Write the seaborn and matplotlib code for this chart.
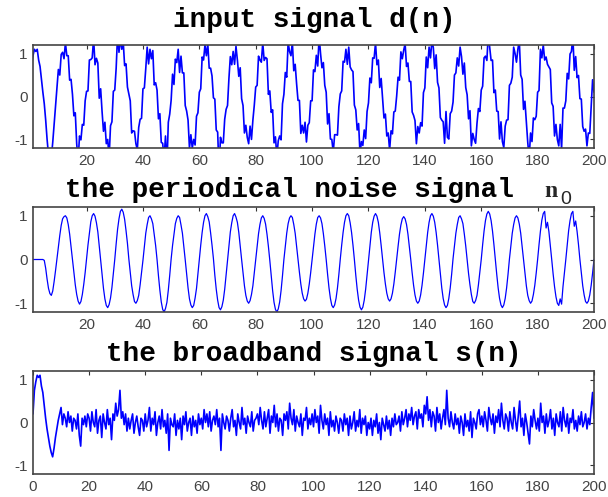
import matplotlib
matplotlib.use("Agg")
import matplotlib.pyplot as plt
import seaborn as sns
import numpy as np
import pandas as pd

sns.set_style("white")
plt.rcParams["axes.unicode_minus"] = False

# sample positions: 0, 0.5, ..., 200 (20 samples per row of 10 units)
n = np.arange(0, 200.5, 0.5)

# the periodical noise signal n0 (one row per 10 units)
n0 = [
    0, 0, 0, 0, 0, 0, 0, 0, 0, 0, -0.02, -0.2, -0.45, -0.66, -0.78, -0.82, -0.72, -0.5, -0.25, 0.02,
    0.28, 0.55, 0.78, 0.93, 0.98, 1.0, 0.95, 0.8, 0.58, 0.3, 0.0, -0.3, -0.58, -0.8, -0.95, -1.02, -0.96, -0.8, -0.57, -0.3,
    0.02, 0.33, 0.6, 0.86, 1.0, 1.05, 0.99, 0.84, 0.63, 0.31, -0.02, -0.35, -0.66, -0.9, -1.05, -1.1, -1.03, -0.88, -0.64, -0.33,
    0.0, 0.36, 0.69, 0.93, 1.1, 1.15, 1.08, 0.92, 0.66, 0.37, 0.01, -0.3, -0.6, -0.8, -0.96, -1.0, -0.94, -0.82, -0.58, -0.31,
    -0.02, 0.3, 0.6, 0.8, 0.96, 1.0, 0.93, 0.82, 0.57, 0.32, 0.0, -0.37, -0.7, -0.97, -1.14, -1.2, -1.12, -0.98, -0.7, -0.36,
    0.01, 0.32, 0.58, 0.82, 0.94, 1.0, 0.96, 0.79, 0.6, 0.3, -0.01, -0.34, -0.65, -0.9, -1.04, -1.1, -1.05, -0.88, -0.66, -0.33,
    0.0, 0.33, 0.62, 0.85, 1.0, 1.05, 0.98, 0.86, 0.61, 0.33, 0.02, -0.36, -0.68, -0.93, -1.1, -1.15, -1.08, -0.93, -0.68, -0.35,
    -0.01, 0.32, 0.63, 0.84, 1.0, 1.05, 0.97, 0.85, 0.62, 0.32, 0.0, -0.31, -0.6, -0.82, -0.95, -1.0, -0.94, -0.8, -0.6, -0.3,
    0.02, 0.31, 0.59, 0.8, 0.95, 1.0, 0.94, 0.81, 0.58, 0.3, -0.02, -0.37, -0.71, -0.98, -1.14, -1.2, -1.13, -0.97, -0.71, -0.37,
    0.0, 0.31, 0.6, 0.82, 0.95, 1.0, 0.96, 0.8, 0.6, 0.3, 0.01, -0.29, -0.56, -0.77, -0.9, -0.95, -0.91, -0.77, -0.56, -0.3,
    0.0, 0.32, 0.58, 0.81, 0.96, 1.0, 0.95, 0.82, 0.59, 0.31, 0.0, -0.34, -0.65, -0.89, -1.05, -1.1, -1.04, -0.89, -0.65, -0.34,
    0.01, 0.33, 0.62, 0.85, 1.0, 1.05, 1.0, 0.84, 0.62, 0.33, 0.0, -0.36, -0.68, -0.93, -1.09, -1.15, -1.09, -0.93, -0.68, -0.35,
    0.0, 0.33, 0.62, 0.85, 0.99, 1.05, 0.99, 0.85, 0.61, 0.32, 0.0, -0.3, -0.56, -0.77, -0.9, -0.95, -0.9, -0.77, -0.56, -0.29,
    0.01, 0.3, 0.58, 0.79, 0.93, 0.98, 0.93, 0.8, 0.58, 0.3, 0.0, -0.31, -0.59, -0.81, -0.95, -1.0, -0.95, -0.81, -0.59, -0.31,
    0.0, 0.32, 0.62, 0.85, 1.0, 1.05, 0.99, 0.85, 0.62, 0.33, 0.0, -0.34, -0.65, -0.89, -1.04, -1.1, -1.05, -0.89, -0.65, -0.34,
    0.02, 0.3, 0.6, 0.8, 0.96, 1.0, 0.93, 0.82, 0.58, 0.31, -0.01, -0.32, -0.58, -0.8, -0.96, -1.0, -0.94, -0.82, -0.58, -0.3,
    0.0, 0.34, 0.65, 0.89, 1.04, 1.1, 1.04, 0.89, 0.65, 0.34, 0.0, -0.34, -0.65, -0.89, -1.04, -1.1, -1.04, -0.89, -0.65, -0.34,
    0.01, 0.31, 0.6, 0.8, 0.95, 1.0, 0.95, 0.81, 0.6, 0.3, 0.0, -0.31, -0.6, -0.82, -0.94, -1.0, -0.95, -0.8, -0.59, -0.31,
    0.0, 0.34, 0.65, 0.9, 1.05, 1.1, 0.72, 0.85, 0.64, 0.33, 0.0, -0.33, -0.62, -0.85, -1.0, -1.05, -0.9, -1.02, -0.62, -0.32,
    0.0, 0.34, 0.66, 0.89, 1.05, 1.1, 0.76, 0.88, 0.64, 0.34, 0.0, -0.31, -0.6, -0.81, -0.96, -1.0, -0.95, -0.81, -0.59, -0.31,
    0.0,
]

# the broadband signal s(n) (bottom panel)
s = [
    0.2, 0.75, 0.95, 1.1, 1.05, 1.1, 0.85, 0.7, 0.4, 0.1, -0.15, -0.35, -0.55, -0.7, -0.8, -0.6, -0.35, -0.15, 0.05, 0.2,
    0.35, -0.05, 0.2, 0.1, -0.1, 0.25, 0.0, 0.15, -0.2, 0.1, 0.05, -0.15, 0.2, -0.3, -0.55, 0.1, -0.05, 0.15, -0.1, 0.2,
    0.1, -0.2, 0.25, 0.0, -0.1, 0.3, -0.25, 0.05, 0.15, -0.35, 0.2, 0.0, -0.15, 0.3, -0.05, 0.1, -0.4, 0.2, 0.05, 0.45,
    0.15, 0.3, 0.75, 0.1, 0.25, -0.05, 0.2, -0.2, 0.1, -0.15, 0.05, 0.2, -0.25, 0.0, 0.15, -0.1, -0.3, 0.1, 0.05, -0.2,
    0.2, -0.1, 0.05, 0.35, -0.2, 0.1, -0.05, 0.25, -0.3, 0.0, 0.15, -0.15, 0.3, -0.1, 0.05, -0.25, 0.2, -0.65, 0.1, -0.05,
    -0.1, 0.2, -0.3, 0.05, -0.15, 0.1, -0.4, 0.15, -0.05, 0.25, -0.2, 0.0, 0.1, -0.3, 0.15, -0.1, 0.05, -0.25, 0.2, -0.05,
    0.1, -0.15, 0.3, 0.0, 0.2, -0.1, 0.25, -0.2, 0.05, 0.15, -0.05, 0.3, -0.1, 0.1, -0.65, 0.2, 0.0, -0.15, 0.15, 0.05,
    -0.2, 0.1, 0.3, -0.1, 0.05, -0.3, 0.2, 0.0, -0.15, 0.35, -0.05, 0.1, -0.25, 0.15, 0.0, -0.1, 0.25, -0.2, 0.05, 0.1,
    0.2, -0.05, 0.35, 0.05, -0.15, 0.25, -0.1, 0.1, 0.3, -0.25, 0.15, 0.0, 0.4, -0.1, 0.2, -0.2, 0.1, 0.05, -0.3, 0.2,
    0.05, 0.25, -0.15, 0.45, 0.1, -0.05, 0.3, -0.2, 0.15, 0.0, -0.1, 0.2, -0.3, 0.1, 0.05, 0.35, -0.15, 0.1, -0.05, 0.2,
    -0.1, 0.3, 0.0, 0.15, -0.25, 0.4, 0.05, -0.15, 0.2, -0.05, 0.1, -0.3, 0.25, -0.1, 0.05, -0.2, 0.15, 0.0, -0.25, 0.1,
    0.05, -0.2, 0.2, -0.05, 0.1, -0.3, 0.15, -0.15, 0.0, 0.25, -0.2, 0.05, -0.1, 0.3, -0.25, 0.1, -0.05, 0.15, -0.3, 0.0,
    -0.15, 0.1, -0.3, 0.05, -0.1, 0.2, -0.25, 0.0, -0.4, 0.1, -0.05, -0.2, 0.15, -0.15, 0.05, -0.3, 0.1, -0.1, 0.2, -0.05,
    0.0, 0.15, -0.2, 0.25, -0.05, 0.1, 0.3, -0.1, 0.2, 0.05, 0.35, -0.05, 0.15, 0.25, -0.15, 0.3, 0.1, 0.2, -0.1, 0.4,
    0.2, 0.6, 0.05, 0.3, -0.1, 0.25, 0.15, -0.2, 0.35, 0.0, 0.2, -0.15, 0.1, 0.3, -0.05, 0.75, 0.1, -0.1, 0.25, 0.0,
    -0.15, 0.2, -0.05, 0.1, -0.25, 0.15, 0.0, -0.3, 0.2, -0.1, 0.05, -0.2, 0.25, -0.35, 0.1, 0.0, -0.15, 0.2, 0.3, -0.05,
    0.15, -0.1, 0.25, 0.05, -0.2, 0.35, 0.1, -0.05, 0.2, -0.25, 0.15, 0.0, 0.3, -0.1, 0.45, 0.05, -0.15, 0.2, 0.1, -0.2,
    0.25, 0.0, -0.15, 0.35, 0.05, -0.2, 0.15, 0.5, -0.1, 0.1, -0.3, 0.2, 0.0, -0.25, -0.5, 0.15, -0.1, 0.3, 0.05, -0.15,
    0.1, -0.2, 0.45, 0.0, 0.15, -0.25, 0.2, -0.1, 0.05, 0.3, -0.15, 0.1, -0.3, 0.2, 0.0, -0.1, 0.25, -0.2, 0.35, 0.05,
    -0.1, 0.2, -0.25, 0.1, 0.0, 0.3, -0.15, 0.05, -0.2, 0.15, -0.05, 0.25, -0.1, 0.0, 0.2, -0.15, 0.1, -0.05, 0.35, 0.7,
    0.1,
]

# input signal d(n) (top panel)
d = [
    0.2, 0.75, 0.95, 1.1, 1.05, 1.1, 0.85, 0.7, 0.4, 0.1, -0.17, -0.55, -1.0, -1.36, -1.58, -1.42, -1.07, -0.65, -0.2, 0.22,
    0.63, 0.5, 0.98, 1.03, 0.88, 1.25, 0.95, 0.95, 0.38, 0.4, 0.05, -0.45, -0.38, -1.1, -1.5, -0.92, -1.01, -0.65, -0.67, -0.1,
    0.12, 0.13, 0.85, 0.86, 0.9, 1.35, 0.74, 0.89, 0.78, -0.04, 0.18, -0.35, -0.81, -0.6, -1.1, -1.0, -1.43, -0.68, -0.59, 0.12,
    0.15, 0.66, 1.44, 1.03, 1.35, 1.1, 1.28, 0.72, 0.76, 0.22, 0.06, -0.1, -0.85, -0.8, -0.81, -1.1, -1.24, -0.72, -0.53, -0.51,
    0.18, 0.2, 0.65, 1.15, 0.76, 1.1, 0.88, 1.07, 0.27, 0.32, 0.15, -0.52, -0.4, -1.07, -1.09, -1.45, -0.92, -1.63, -0.6, -0.41,
    -0.09, 0.52, 0.28, 0.87, 0.79, 1.1, 0.56, 0.94, 0.55, 0.55, -0.21, -0.34, -0.55, -1.2, -0.89, -1.2, -1.0, -1.13, -0.46, -0.38,
    0.1, 0.18, 0.92, 0.85, 1.2, 0.95, 1.23, 0.66, 0.66, 0.48, -0.03, -0.06, -0.78, -0.83, -1.75, -0.95, -1.08, -1.08, -0.53, -0.3,
    -0.21, 0.42, 0.93, 0.74, 1.05, 0.75, 1.17, 0.85, 0.47, 0.67, -0.05, -0.21, -0.85, -0.67, -0.95, -1.1, -0.69, -1.0, -0.55, -0.2,
    0.22, 0.26, 0.94, 0.85, 0.8, 1.25, 0.84, 0.91, 0.88, 0.05, 0.13, -0.37, -0.31, -1.08, -0.94, -1.4, -1.03, -0.92, -1.01, -0.17,
    0.05, 0.56, 0.45, 1.27, 1.05, 0.95, 1.26, 0.6, 0.75, 0.3, -0.09, -0.09, -0.86, -0.67, -0.85, -0.6, -1.06, -0.67, -0.61, -0.1,
    -0.1, 0.62, 0.58, 0.96, 0.71, 1.4, 1.0, 0.67, 0.79, 0.26, 0.1, -0.64, -0.4, -0.99, -1.0, -1.3, -0.89, -0.89, -0.9, -0.24,
    0.06, 0.13, 0.82, 0.8, 1.1, 0.75, 1.15, 0.69, 0.62, 0.58, -0.2, -0.31, -0.78, -0.63, -1.34, -1.05, -1.14, -0.78, -0.98, -0.35,
    -0.15, 0.43, 0.32, 0.9, 0.89, 1.25, 0.74, 0.85, 0.21, 0.42, -0.05, -0.5, -0.41, -0.92, -0.85, -1.25, -0.8, -0.87, -0.36, -0.34,
    0.01, 0.45, 0.38, 1.04, 0.88, 1.08, 1.23, 0.7, 0.78, 0.35, 0.35, -0.36, -0.44, -0.56, -1.1, -0.7, -0.85, -0.61, -0.69, 0.09,
    0.2, 0.92, 0.67, 1.15, 0.9, 1.3, 1.14, 0.65, 0.97, 0.33, 0.2, -0.49, -0.55, -0.59, -1.09, -0.35, -0.95, -0.99, -0.4, -0.34,
    -0.13, 0.5, 0.55, 0.9, 0.71, 1.15, 0.93, 0.52, 0.78, 0.21, 0.04, -0.52, -0.33, -1.15, -0.86, -1.0, -1.09, -0.62, -0.28, -0.35,
    0.15, 0.24, 0.9, 0.94, 0.84, 1.45, 1.14, 0.84, 0.85, 0.09, 0.15, -0.34, -0.35, -0.99, -0.59, -1.05, -1.19, -0.69, -0.55, -0.54,
    0.26, 0.31, 0.45, 1.15, 1.0, 0.8, 1.1, 1.31, 0.5, 0.4, -0.3, -0.11, -0.6, -1.07, -1.44, -0.85, -1.05, -0.5, -0.54, -0.46,
    0.1, 0.14, 1.1, 0.9, 1.2, 0.85, 0.92, 0.75, 0.69, 0.63, -0.15, -0.23, -0.92, -0.65, -1.0, -1.15, -0.65, -1.22, -0.27, -0.27,
    -0.1, 0.54, 0.41, 0.99, 1.05, 1.4, 0.61, 0.93, 0.44, 0.49, -0.05, -0.06, -0.7, -0.81, -0.76, -1.15, -0.85, -0.86, -0.24, 0.39,
    0.1,
]

xt_top = [20, 40, 60, 80, 100, 120, 140, 160, 180, 200]
xt_bot = [0, 20, 40, 60, 80, 100, 120, 140, 160, 180, 200]
yt = [-1, 0, 1]

W, H = 608, 497
fig = plt.figure(figsize=(W / 100, H / 100), dpi=100)

# axes boxes in pixels: (left, top, right, bottom)
boxes = [(33, 45, 594, 148), (33, 207, 594, 312), (33, 371, 594, 474)]
series = [d, n0, s]
widths = [1.2, 0.9, 1.2]
xlims = [(1, 200), (1, 200), (0, 200)]
xticks = [xt_top, xt_top, xt_bot]

for (l, t, r, b), y, lw, xl, xt in zip(boxes, series, widths, xlims, xticks):
    ax = fig.add_axes([l / W, 1 - b / H, (r - l) / W, (b - t) / H])
    df = pd.DataFrame({"n": n, "v": y})
    sns.lineplot(data=df, x="n", y="v", ax=ax, color="#0000ff", lw=lw)
    ax.set_xlim(*xl)
    ax.set_ylim(-1.2, 1.2)
    ax.set_xticks(xt)
    ax.set_yticks(yt)
    ax.set_xlabel("")
    ax.set_ylabel("")
    ax.tick_params(direction="in", top=True, right=True, length=3, width=0.8,
                   colors="#333333", labelsize=11, pad=4)
    for lab in ax.get_xticklabels() + ax.get_yticklabels():
        lab.set_fontfamily("Liberation Sans")
        lab.set_color("#444444")
    for sp in ax.spines.values():
        sp.set_color("#444444")
        sp.set_linewidth(1.2)

tfont = dict(family="Liberation Mono", weight="bold", size=20, color="black")
fig.text(173 / W, 1 - 27 / H, "input signal d(n)", ha="left", va="baseline", **tfont)
fig.text(65 / W, 1 - 197 / H, "the periodical noise signal", ha="left", va="baseline", **tfont)
fig.text(544 / W, 1 - 197 / H, "n", ha="left", va="baseline",
         family="Liberation Serif", weight="bold", size=17)
fig.text(560 / W, 1 - 204 / H, "0", ha="left", va="baseline",
         family="Liberation Sans", size=14)
fig.text(106 / W, 1 - 361 / H, "the broadband signal s(n)", ha="left", va="baseline", **tfont)

fig.savefig("out.png", dpi=100)
